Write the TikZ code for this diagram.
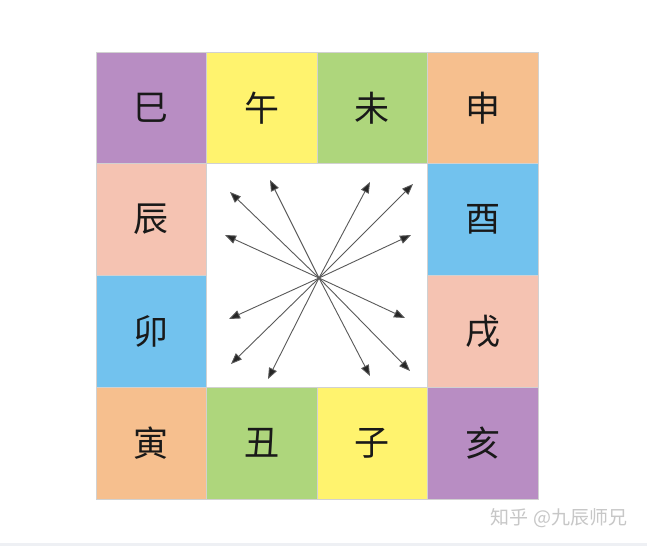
\documentclass[tikz,border=0pt]{standalone}
\usepackage{fontspec}
\newfontfamily\cjk{Noto Sans CJK SC}
\usetikzlibrary{arrows.meta}
\definecolor{cpurple}{HTML}{B88DC3}
\definecolor{cyellow}{HTML}{FFF36E}
\definecolor{cgreen}{HTML}{AED67C}
\definecolor{corange}{HTML}{F6BF8E}
\definecolor{cpink}{HTML}{F5C3B2}
\definecolor{cblue}{HTML}{72C2EE}
\definecolor{band}{HTML}{EEF0F4}
\tikzset{
  cell/.style={draw=black!18, line width=0.8pt, minimum width=110.5pt, minimum height=111.75pt, inner sep=0pt, anchor=center, font=\cjk\fontsize{35}{35}\selectfont, text=black!90},
  ray/.style={draw=black!65, line width=0.9pt, -{Triangle[length=11pt,width=8.5pt,fill=black!85]}},
  wm/.style={font=\cjk\fontsize{19}{19}\selectfont, text=black!22, anchor=center}
}
\begin{document}
\begin{tikzpicture}[x=1pt,y=-1pt]
\useasboundingbox (0,0) rectangle (647,546);
\fill[white] (0,0) rectangle (647,546);
\fill[band] (0,543) rectangle (647,546);
% row 1
\node[cell, fill=cpurple] (si)   at (151.25,107.9) {巳};
\node[cell, fill=cyellow] (wu)   at (261.75,107.9) {午};
\node[cell, fill=cgreen]  (wei)  at (372.25,107.9) {未};
\node[cell, fill=corange] (shen) at (482.75,107.9) {申};
% row 2
\node[cell, fill=cpink]   (chen) at (151.25,219.6) {辰};
\node[cell, fill=cblue]   (you)  at (482.75,219.6) {酉};
% row 3
\node[cell, fill=cblue]   (mao)  at (151.25,331.4) {卯};
\node[cell, fill=cpink]   (xu)   at (482.75,331.4) {戌};
% row 4
\node[cell, fill=corange] (yin)  at (151.25,443.1) {寅};
\node[cell, fill=cgreen]  (chou) at (261.75,443.1) {丑};
\node[cell, fill=cyellow] (zi)   at (372.25,443.1) {子};
\node[cell, fill=cpurple] (hai)  at (482.75,443.1) {亥};
% rays
\coordinate (c) at (319,278);
\coordinate (t1) at (230,192);
\coordinate (t2) at (270,180);
\coordinate (t3) at (225,235);
\coordinate (t4) at (370,182);
\coordinate (t5) at (413,184);
\coordinate (t6) at (411,235);
\coordinate (t7) at (229,319);
\coordinate (t8) at (231,364);
\coordinate (t9) at (268,379);
\coordinate (t10) at (370,376);
\coordinate (t11) at (410,371);
\coordinate (t12) at (405,318);
\foreach \t in {t1,t2,t3,t4,t5,t6,t7,t8,t9,t10,t11,t12}
  \draw[ray] (c) -- (\t);
\node[wm] (mark) at (559,518) {知乎 @九辰师兄};
\end{tikzpicture}
\end{document}
